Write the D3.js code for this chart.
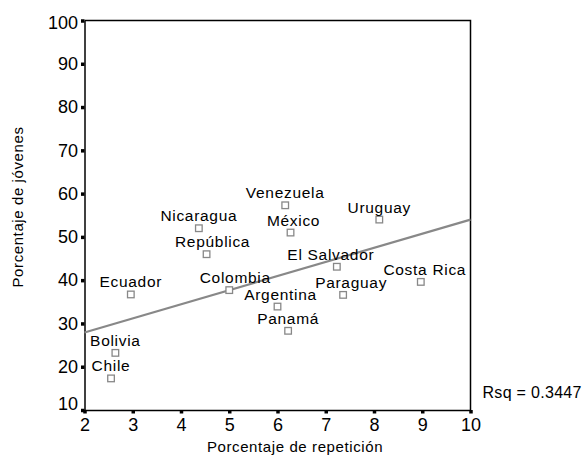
<!DOCTYPE html>
<html>
<head>
<meta charset="utf-8">
<script src="https://cdn.jsdelivr.net/npm/d3@7"></script>
<style>
  html, body { margin: 0; padding: 0; background: #fff; }
  svg { display: block; }
</style>
</head>
<body>
<svg id="chart" width="585" height="461"></svg>
<script>
// ---- data ----
const countries = ["Chile", "Bolivia", "Ecuador", "Nicaragua", "República", "Colombia", "Venezuela",
  "México", "Uruguay", "El Salvador", "Costa Rica", "Paraguay", "Argentina", "Panamá"];
const repeticion = [2.55, 2.64, 2.96, 4.37, 4.53, 5.0, 6.16, 6.27, 8.11, 7.23, 8.97, 7.36, 6.0, 6.22];
const jovenes = [17.3, 23.2, 36.7, 52.0, 46.0, 37.7, 57.3, 51.0, 54.0, 43.1, 39.6, 36.6, 33.9, 28.3];
const fitX = [2, 10];
const fitY = [27.9, 54.0];
const xTicks = [2, 3, 4, 5, 6, 7, 8, 9, 10];
const yTicks = [10, 20, 30, 40, 50, 60, 70, 80, 90, 100];
const rsqLabel = "Rsq = 0.3447";
const xTitle = "Porcentaje de repetición";
const yTitle = "Porcentaje de jóvenes";

// ---- layout ----
const mLeft = 84.5, mRight = 470.5, mTop = 20.5, mBottom = 410;
const font = "'Liberation Sans', Arial, sans-serif";
const labelDx = { "Colombia": 6, "República": 6, "El Salvador": -6, "Costa Rica": 4,
  "Paraguay": 8, "Argentina": 3, "México": 3 };

const svg = d3.select("#chart");
const x = d3.scaleLinear().domain([2, 10]).range([mLeft, mRight]);
const y = d3.scaleLinear().domain([10, 100]).range([mBottom, mTop]);

// frame (top/right)
svg.append("path")
  .attr("d", `M${mLeft},${mTop}H${mRight}V${mBottom}`)
  .attr("fill", "none").attr("stroke", "#000").attr("stroke-width", 1.5);

// axes
const xAxis = svg.append("g").attr("transform", `translate(0,${mBottom})`)
  .call(d3.axisBottom(x).tickValues(xTicks).tickFormat(d3.format("d")).tickSizeInner(3.5).tickSizeOuter(0).tickPadding(5));
const yAxis = svg.append("g").attr("transform", `translate(${mLeft},0)`)
  .call(d3.axisLeft(y).tickValues(yTicks).tickFormat(d3.format("d")).tickSizeInner(3.5).tickSizeOuter(0).tickPadding(3));

[xAxis, yAxis].forEach(g => {
  g.select(".domain").attr("stroke", "#000").attr("stroke-width", 1.5);
  g.selectAll(".tick line").attr("stroke", "#000").attr("stroke-width", 3.5);
  g.selectAll(".tick text").attr("fill", "#000").style("font-family", font).style("font-size", "18px");
});
yAxis.selectAll(".tick text")
  .attr("dy", d => d === 10 ? "-0.02em" : (d === 100 ? "0.45em" : "0.32em"));

// regression line
svg.append("line")
  .attr("x1", x(fitX[0])).attr("y1", y(fitY[0]))
  .attr("x2", x(fitX[1])).attr("y2", y(fitY[1]))
  .attr("stroke", "#888").attr("stroke-width", 2.2);

// points
const pts = countries.map((c, i) => ({ c, x: repeticion[i], y: jovenes[i] }));
svg.append("g").selectAll("rect").data(pts).join("rect")
  .attr("x", d => x(d.x) - 3.3).attr("y", d => y(d.y) - 3.3)
  .attr("width", 6.6).attr("height", 6.6)
  .attr("fill", "#fff").attr("stroke", "#888").attr("stroke-width", 1.3);

svg.append("g").selectAll("text").data(pts).join("text")
  .attr("x", d => x(d.x) + (labelDx[d.c] || 0))
  .attr("y", d => y(d.y) - 7)
  .attr("text-anchor", "middle")
  .style("font-family", font).style("font-size", "15.5px").style("letter-spacing", "0.7px")
  .attr("fill", "#000")
  .text(d => d.c);

// titles
svg.append("text").attr("x", 295).attr("y", 452).attr("text-anchor", "middle")
  .style("font-family", font).style("font-size", "15px").style("letter-spacing", "0.6px")
  .text(xTitle);
svg.append("text").attr("transform", "translate(23,207) rotate(-90)").attr("text-anchor", "middle")
  .style("font-family", font).style("font-size", "15px").style("letter-spacing", "0.6px")
  .text(yTitle);
svg.append("text").attr("x", 482.5).attr("y", 398)
  .style("font-family", font).style("font-size", "16px").style("letter-spacing", "0.3px")
  .text(rsqLabel);
</script>
</body>
</html>
